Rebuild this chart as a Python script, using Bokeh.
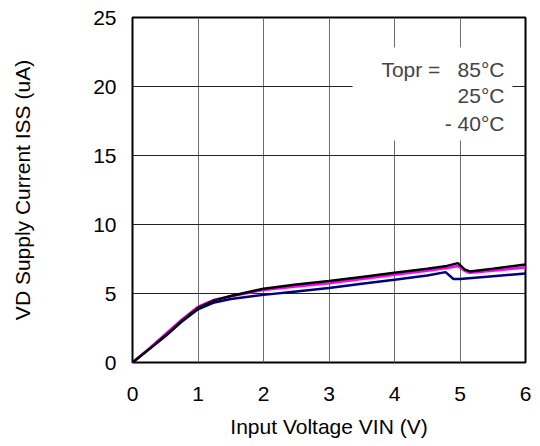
from bokeh.plotting import figure
from bokeh.models import Label, FixedTicker
from bokeh.embed import file_html
from bokeh.resources import INLINE

# ---- data ----
x_hot = [0, 0.25, 0.5, 0.75, 1.0, 1.25, 1.5, 2.0, 2.5, 3.0, 3.5, 4.0, 4.5, 4.8, 4.97, 5.07, 5.15, 5.5, 6.0]
y_hot = [0, 0.95, 1.95, 3.0, 3.95, 4.5, 4.82, 5.35, 5.65, 5.9, 6.2, 6.5, 6.8, 7.0, 7.2, 6.75, 6.6, 6.8, 7.1]

x_room = [0, 0.25, 0.5, 0.75, 1.0, 1.25, 1.5, 2.0, 2.5, 3.0, 3.5, 4.0, 4.5, 4.8, 4.97, 5.07, 5.15, 5.5, 6.0]
y_room = [0, 1.0, 2.05, 3.1, 4.05, 4.55, 4.8, 5.25, 5.5, 5.75, 6.05, 6.35, 6.65, 6.85, 7.0, 6.65, 6.5, 6.65, 6.9]

x_cold = [0, 0.25, 0.5, 0.75, 1.0, 1.25, 1.5, 2.0, 2.5, 3.0, 3.5, 4.0, 4.5, 4.78, 4.9, 5.0, 5.5, 6.0]
y_cold = [0, 0.95, 1.9, 2.95, 3.85, 4.35, 4.6, 4.9, 5.15, 5.4, 5.7, 6.0, 6.3, 6.55, 6.05, 6.05, 6.25, 6.45]

x_ticks = [0, 1, 2, 3, 4, 5, 6]
y_ticks = [0, 5, 10, 15, 20, 25]

legend_title = "Topr ="
legend_temps = ["85°C", "25°C", "- 40°C"]

FONT = "Liberation Sans"
FS = "21px"

p = figure(width=540, height=446, x_range=(0, 6), y_range=(0, 25),
           output_backend="svg", toolbar_location=None,
           min_border_left=132, min_border_right=15, min_border_top=17, min_border_bottom=84)

p.outline_line_color = "black"
p.outline_line_width = 2
p.background_fill_color = "white"
p.border_fill_color = "white"

p.xaxis.ticker = FixedTicker(ticks=x_ticks)
p.yaxis.ticker = FixedTicker(ticks=y_ticks)
for ax in (p.xaxis, p.yaxis):
    ax.major_tick_out = 0
    ax.major_tick_in = 0
    ax.minor_tick_out = 0
    ax.minor_tick_in = 0
    ax.axis_line_color = None
    ax.major_label_text_font = FONT
    ax.major_label_text_font_size = FS
    ax.major_label_text_color = "black"
    ax.axis_label_text_font = FONT
    ax.axis_label_text_font_size = FS
    ax.axis_label_text_font_style = "normal"
    ax.axis_label_text_color = "black"

p.xaxis.axis_label = "Input Voltage VIN (V)"
p.yaxis.axis_label = "VD Supply Current ISS (uA)"
p.xaxis.major_label_standoff = 24
p.yaxis.major_label_standoff = 16
p.xaxis.axis_label_standoff = 11
p.yaxis.axis_label_standoff = 56

p.xgrid.ticker = FixedTicker(ticks=x_ticks)
p.ygrid.ticker = FixedTicker(ticks=y_ticks)
p.xgrid.grid_line_color = "#6e6e6e"
p.ygrid.grid_line_color = "#222222"
p.xgrid.grid_line_width = 1
p.ygrid.grid_line_width = 1

# white box behind the legend text, interrupting the grid
p.quad(left=3.36, right=5.80, bottom=16.09, top=22.83,
       fill_color="white", line_color=None)

p.line(x_cold, y_cold, line_color="#000080", line_width=2.5)
p.line(x_room, y_room, line_color="#FF00FF", line_width=2.5)
p.line(x_hot, y_hot, line_color="black", line_width=2.5)

p.add_layout(Label(x=3.80, y=21.25, text=legend_title, text_font=FONT,
                   text_font_size=FS, text_align="left", text_baseline="alphabetic"))
for t, yy in zip(legend_temps, [21.25, 19.35, 17.32]):
    p.add_layout(Label(x=5.68, y=yy, text=t, text_font=FONT, text_font_size=FS,
                       text_align="right", text_baseline="alphabetic"))

open("out.html", "w").write(file_html(p, INLINE))
